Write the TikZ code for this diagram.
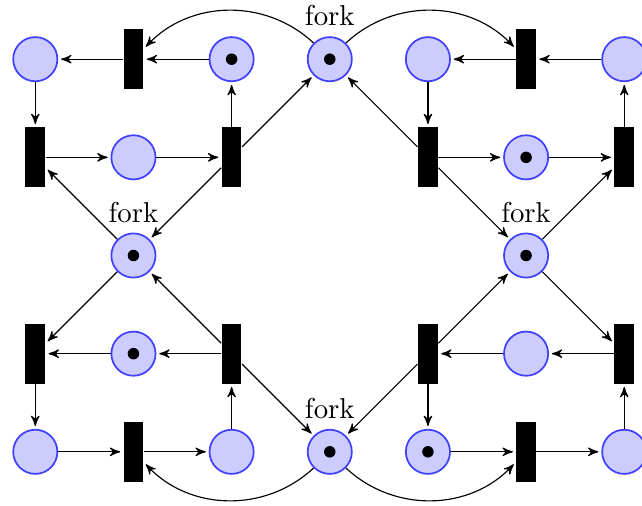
\documentclass[tikz,border=0pt]{standalone}
\usetikzlibrary{arrows}
\begin{document}
\begin{tikzpicture}[x=1.2cm,y=1.2cm,
  place/.style={circle,draw=blue!75,fill=blue!20,semithick,inner sep=0pt,minimum size=5.4mm},
  trans/.style={rectangle,fill=black,draw=none,inner sep=0pt,minimum width=2.4mm,minimum height=7.3mm},
  tok/.style={path picture={\fill[black] (path picture bounding box.center) circle (2pt);}},
  forkl/.style={label=above:fork},
  post/.style={->,>=stealth',shorten >=1pt,thin},
  cpost/.style={->,>=stealth',shorten >=1pt,thin}]
\useasboundingbox (-0.4315cm,-5.462cm) rectangle (7.417cm,0.7237cm);
% row 0
\node[place] (p00) at (0,0) {};
\node[trans] (t10) at (1,0) {};
\node[place,tok] (p20) at (2,0) {};
\node[place,tok,forkl] (p30) at (3,0) {};
\node[place] (p40) at (4,0) {};
\node[trans] (t50) at (5,0) {};
\node[place] (p60) at (6,0) {};
% row 1
\node[trans] (t01) at (0,-1) {};
\node[place] (p11) at (1,-1) {};
\node[trans] (t21) at (2,-1) {};
\node[trans] (t41) at (4,-1) {};
\node[place,tok] (p51) at (5,-1) {};
\node[trans] (t61) at (6,-1) {};
% row 2
\node[place,tok,forkl] (p12) at (1,-2) {};
\node[place,tok,forkl] (p52) at (5,-2) {};
% row 3
\node[trans] (t03) at (0,-3) {};
\node[place,tok] (p13) at (1,-3) {};
\node[trans] (t23) at (2,-3) {};
\node[trans] (t43) at (4,-3) {};
\node[place] (p53) at (5,-3) {};
\node[trans] (t63) at (6,-3) {};
% row 4
\node[place] (p04) at (0,-4) {};
\node[trans] (t14) at (1,-4) {};
\node[place] (p24) at (2,-4) {};
\node[place,tok,forkl] (p34) at (3,-4) {};
\node[place,tok] (p44) at (4,-4) {};
\node[trans] (t54) at (5,-4) {};
\node[place] (p64) at (6,-4) {};
% top-left philosopher
\draw[post] (p20) -- (t10);
\draw[post] (t10) -- (p00);
\draw[post] (p00) -- (t01);
\draw[post] (t01) -- (p11);
\draw[post] (p11) -- (t21);
\draw[post] (t21) -- (p20);
\draw[post] (t21) -- (p30);
\draw[post] (t21) -- (p12);
\draw[post] (p12) -- (t01);
\draw[cpost] (p30) to[bend right=45] (t10);
% top-right philosopher
\draw[post] (p60) -- (t50);
\draw[post] (t50) -- (p40);
\draw[post] (p40) -- (t41);
\draw[post] (t41) -- (p51);
\draw[post] (p51) -- (t61);
\draw[post] (t61) -- (p60);
\draw[post] (t41) -- (p30);
\draw[post] (t41) -- (p52);
\draw[post] (p52) -- (t61);
\draw[cpost] (p30) to[bend left=45] (t50);
% bottom-left philosopher
\draw[post] (p12) -- (t03);
\draw[post] (p13) -- (t03);
\draw[post] (t23) -- (p13);
\draw[post] (t23) -- (p12);
\draw[post] (t23) -- (p34);
\draw[post] (t03) -- (p04);
\draw[post] (p04) -- (t14);
\draw[post] (t14) -- (p24);
\draw[post] (p24) -- (t23);
\draw[cpost] (p34) to[bend left=45] (t14);
% bottom-right philosopher
\draw[post] (t43) -- (p34);
\draw[post] (t43) -- (p52);
\draw[post] (p53) -- (t43);
\draw[post] (t63) -- (p53);
\draw[post] (p52) -- (t63);
\draw[post] (t43) -- (p44);
\draw[post] (p44) -- (t54);
\draw[post] (t54) -- (p64);
\draw[post] (p64) -- (t63);
\draw[cpost] (p34) to[bend right=45] (t54);
\end{tikzpicture}
\end{document}
